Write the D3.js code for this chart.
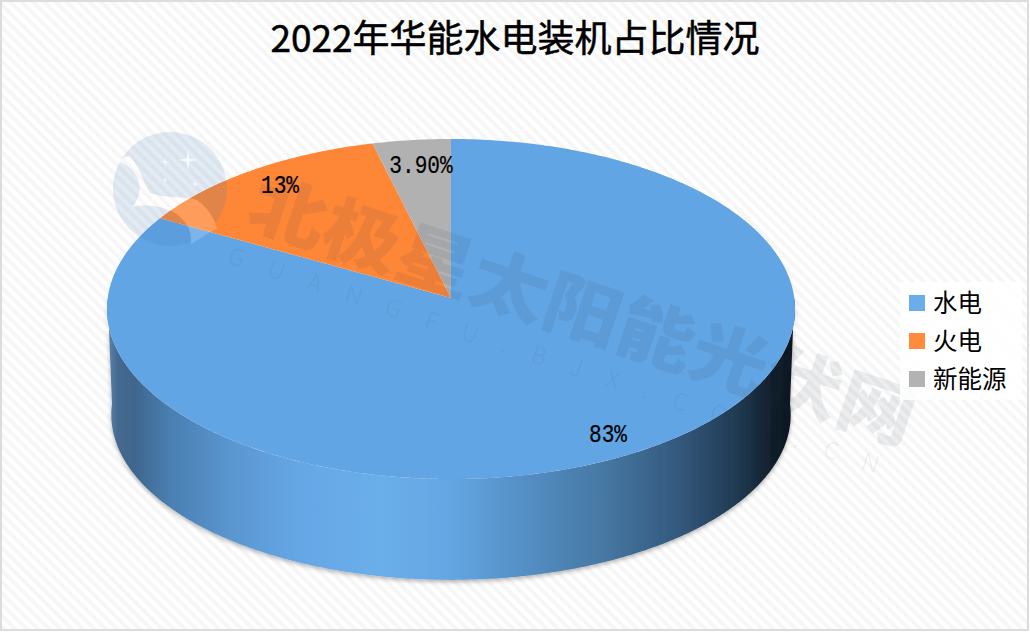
<!DOCTYPE html>
<html>
<head>
<meta charset="utf-8">
<title>2022年华能水电装机占比情况</title>
<script src="https://cdn.jsdelivr.net/npm/d3@7/dist/d3.min.js"></script>
<style>
html, body { margin: 0; padding: 0; background: #fff; }
svg { display: block; }
text { font-family: "Noto Sans CJK SC", "Noto Sans", sans-serif; }
</style>
</head>
<body>
<div id="chart"></div>
<script>
var chartTitle = "2022年华能水电装机占比情况";
var categories = ["水电", "火电", "新能源"];
var shares = [83, 13, 3.9];
var shareLabels = ["83%", "13%", "3.90%"];
var colors = ["#62a5e4", "#fe8737", "#b1b1b1"];
var legendColors = ["#69ade9", "#ff8b3d", "#b3b3b3"];

var width = 1030, height = 632;

// the pie is a perspective disc, the far half looks smaller than the near half
var top_ = { cx: 451, cy: 298, rx: 343.3, ry: 169.3, k: 0.0647 };
var base = { cx: 451, cy: 404, rx: 339, ry: 164.5, k: 0.0647 };

function project(disc, angle) {
	var u = Math.sin(angle), v = -Math.cos(angle);
	var w = 1 - disc.k * v;
	return [disc.cx + disc.rx * u / w, disc.cy + disc.ry * v / w];
}

function sample(disc, from, to) {
	var n = Math.max(2, Math.ceil(Math.abs(to - from) / 0.01));
	return d3.range(n + 1).map(function (i) {
		return project(disc, from + (to - from) * i / n);
	});
}

var line = d3.line();

var svg = d3.select("#chart").append("svg")
	.attr("width", width)
	.attr("height", height);

var defs = svg.append("defs");

/**
 * Background hatch
 */
var hatch = defs.append("pattern")
	.attr("id", "hatch")
	.attr("patternUnits", "userSpaceOnUse")
	.attr("width", 8)
	.attr("height", 8)
	.attr("patternTransform", "rotate(45)");
hatch.append("rect").attr("width", 8).attr("height", 8).attr("fill", "#ffffff");
hatch.append("rect").attr("width", 8).attr("height", 4).attr("fill", "#f6f6f6");

/**
 * Shading of the outer wall runs from left to right
 */
var wallStops = [
	[107, "#5d89b2"], [118, "#44698f"], [135, "#3f668e"], [170, "#4a7fb2"],
	[230, "#5a96cf"], [300, "#65a7e6"], [380, "#6aaeea"], [450, "#64a6e3"],
	[520, "#5590c6"], [600, "#4779a5"], [680, "#33587c"], [740, "#1f3850"],
	[775, "#101c28"], [795, "#0c161e"]
];
var wallColor = d3.scaleLinear().domain([107, 795]).range([0, 1]);
var wallGrad = defs.append("linearGradient")
	.attr("id", "wall")
	.attr("gradientUnits", "userSpaceOnUse")
	.attr("x1", 107).attr("x2", 795).attr("y1", 0).attr("y2", 0);
wallGrad.selectAll("stop").data(wallStops).enter().append("stop")
	.attr("offset", function (d) { return wallColor(d[0]); })
	.attr("stop-color", function (d) { return d[1]; });

var shadow = defs.append("filter")
	.attr("id", "shadow")
	.attr("x", "-5%").attr("y", "-5%").attr("width", "110%").attr("height", "115%");
shadow.append("feDropShadow")
	.attr("dx", 0).attr("dy", 2)
	.attr("stdDeviation", 2)
	.attr("flood-color", "#000")
	.attr("flood-opacity", 0.3);

/**
 * Cut the swoosh out of the logo disc
 */
var swoosh = "M116,160 L130,156 C140,168 144,184 150,193 C165,199 185,196 197,200 "
	+ "C208,208 214,218 217,228 L191,244 C192,232 188,224 180,217 "
	+ "C172,208 150,203 132,207 C143,196 146,172 116,160 Z";
var logoMask = defs.append("mask").attr("id", "logoMask");
logoMask.append("rect").attr("width", width).attr("height", height).attr("fill", "#fff");
logoMask.append("path").attr("d", swoosh).attr("fill", "#000");

svg.append("rect")
	.attr("x", 1).attr("y", 1)
	.attr("width", width - 3).attr("height", height - 3)
	.attr("fill", "url(#hatch)")
	.attr("stroke", "#dcdcdc")
	.attr("stroke-width", 2);

svg.append("text")
	.attr("x", 515)
	.attr("y", 52)
	.attr("text-anchor", "middle")
	.attr("font-size", 37)
	.attr("fill", "#000")
	.attr("stroke", "#000")
	.attr("stroke-width", 0.5)
	.text(chartTitle);

/**
 * Pie, outer wall first and then the top face
 */
var pie = d3.pie().sort(null).value(function (d) { return d; });
var arcs = pie(shares);

var wallPts = sample(top_, Math.PI * 0.5, Math.PI * 1.5)
	.concat(sample(base, Math.PI * 1.5, Math.PI * 0.5));
svg.append("path")
	.attr("d", line(wallPts) + "Z")
	.attr("fill", "url(#wall)")
	.attr("filter", "url(#shadow)");

svg.selectAll("path.slice").data(arcs).enter().append("path")
	.attr("class", "slice")
	.attr("d", function (d) {
		var pts = [[top_.cx, top_.cy]].concat(sample(top_, d.startAngle, d.endAngle));
		return line(pts) + "Z";
	})
	.attr("fill", function (d, i) { return colors[i]; });

/**
 * Watermark lies over the pie
 */
var mark = svg.append("g");
mark.append("circle")
	.attr("cx", 170).attr("cy", 189).attr("r", 57)
	.attr("fill", "#3c78b4")
	.attr("fill-opacity", 0.15)
	.attr("mask", "url(#logoMask)");
mark.append("path")
	.attr("d", swoosh)
	.attr("fill", "#fff")
	.attr("fill-opacity", 0.18);

function sparkle(x, y, r) {
	var pts = d3.range(8).map(function (i) {
		var a = i * Math.PI / 4, d = i % 2 ? r / 5 : r;
		return [x + d * Math.sin(a), y - d * Math.cos(a)];
	});
	mark.append("path")
		.attr("d", line(pts) + "Z")
		.attr("fill", "#fff")
		.attr("fill-opacity", 0.75);
}
sparkle(188, 160, 10);
sparkle(165, 162, 5);
sparkle(195, 184, 5);
sparkle(165, 180, 4);

mark.append("text")
	.attr("transform", "translate(244,224) rotate(18.5) scale(1.02,0.92)")
	.attr("font-size", 76)
	.attr("font-weight", 900)
	.attr("fill", "#28384a")
	.attr("fill-opacity", 0.09)
	.text("北极星太阳能光伏网");

mark.append("text")
	.attr("transform", "translate(226,263) rotate(18)")
	.attr("font-size", 24)
	.attr("font-family", "Lato, sans-serif")
	.attr("letter-spacing", 25)
	.attr("fill", "#28384a")
	.attr("fill-opacity", 0.06)
	.text("GUANGFU.BJX.COM.CN");

/**
 * Data labels
 */
var labelAt = [[608, 442], [280, 193], [421, 173]];
svg.selectAll("text.share").data(shareLabels).enter().append("text")
	.attr("class", "share")
	.attr("transform", function (d, i) {
		return "translate(" + labelAt[i][0] + "," + labelAt[i][1] + ") scale(0.92,1.1)";
	})
	.attr("text-anchor", "middle")
	.style("font-family", "'Liberation Mono', monospace")
	.attr("font-size", 23)
	.attr("fill", "#000")
	.attr("stroke", "#000")
	.attr("stroke-width", 0.2)
	.text(function (d) { return d; });

/**
 * Legend
 */
svg.append("rect")
	.attr("x", 900).attr("y", 282)
	.attr("width", 122).attr("height", 118)
	.attr("fill", "#fff")
	.attr("fill-opacity", 0.85);

var legendY = d3.scalePoint().domain(categories).range([303, 379]);
var legend = svg.selectAll("g.legend").data(categories).enter().append("g")
	.attr("class", "legend")
	.attr("transform", function (d) { return "translate(0," + legendY(d) + ")"; });
legend.append("rect")
	.attr("x", 909).attr("y", -8)
	.attr("width", 16).attr("height", 16)
	.attr("fill", function (d, i) { return legendColors[i]; });
legend.append("text")
	.attr("x", 933)
	.attr("y", 9)
	.attr("font-size", 24.5)
	.attr("fill", "#000")
	.text(function (d) { return d; });
</script>
</body>
</html>
